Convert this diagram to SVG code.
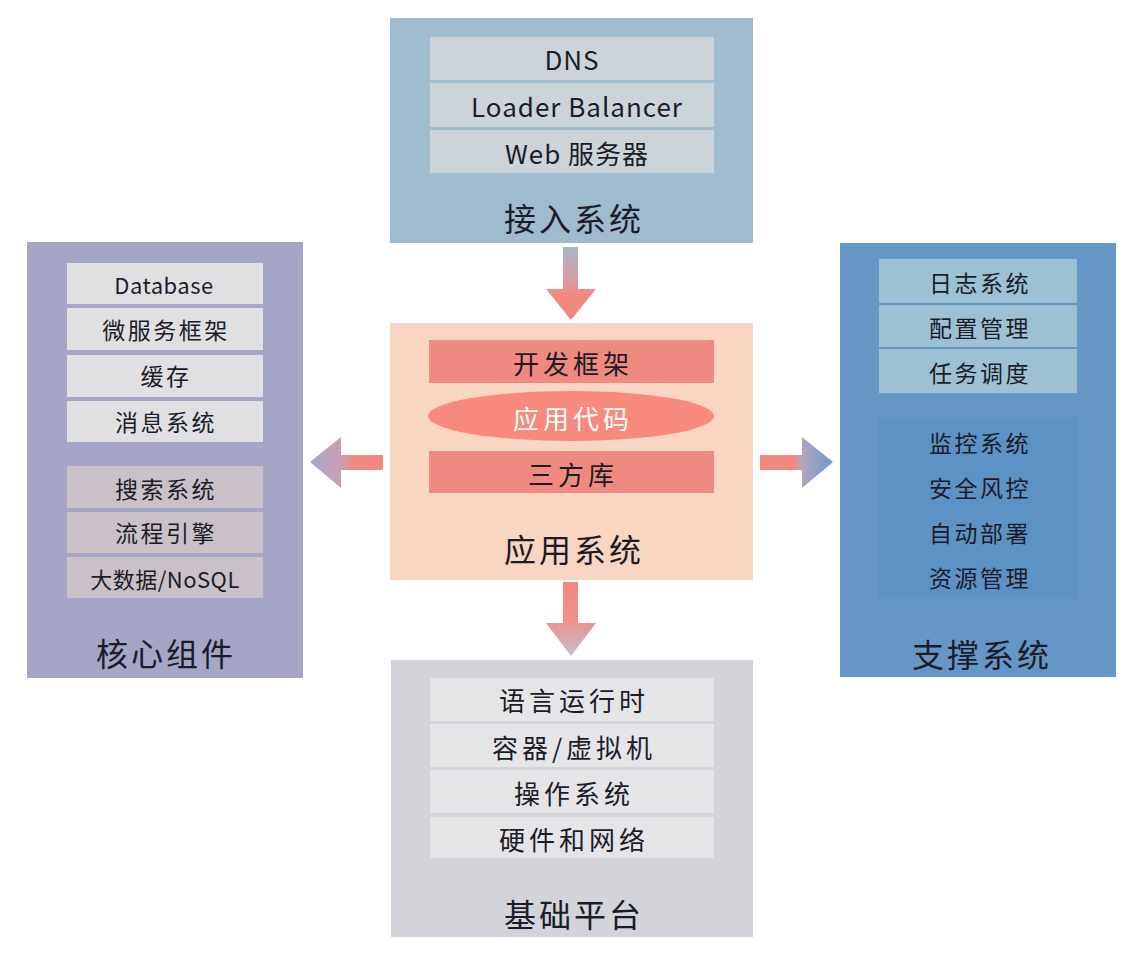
<svg xmlns="http://www.w3.org/2000/svg" width="1142" height="958" viewBox="0 0 1142 958">
  <style>
    text { font-family: "Noto Sans CJK SC", "DejaVu Sans", sans-serif; fill: #1c1c28; text-anchor: middle; dominant-baseline: central; }
    .item { font-size: 26px; letter-spacing: 4px; }
    .latin { font-size: 26px; letter-spacing: 1px; }
    .small { font-size: 23px; letter-spacing: 2.5px; }
    .tight { font-size: 22px; letter-spacing: 0.5px; }
    .title { font-size: 32px; letter-spacing: 3px; }
    .light { fill: #ffffff; }
  </style>
  <defs>
    <linearGradient id="gDownTop" x1="0" y1="0" x2="0" y2="1">
      <stop offset="0" stop-color="#a9b5cc"/>
      <stop offset="0.45" stop-color="#d49ca4"/>
      <stop offset="0.65" stop-color="#f08a80"/>
      <stop offset="1" stop-color="#f08a80"/>
    </linearGradient>
    <linearGradient id="gDownBottom" x1="0" y1="0" x2="0" y2="1">
      <stop offset="0" stop-color="#f08a80"/>
      <stop offset="0.5" stop-color="#f09088"/>
      <stop offset="1" stop-color="#c3bccd"/>
    </linearGradient>
    <linearGradient id="gLeft" x1="0" y1="0" x2="1" y2="0">
      <stop offset="0" stop-color="#a7a6c8"/>
      <stop offset="0.4" stop-color="#c9a0b4"/>
      <stop offset="0.6" stop-color="#f08a80"/>
      <stop offset="1" stop-color="#f08a80"/>
    </linearGradient>
    <linearGradient id="gRight" x1="0" y1="0" x2="1" y2="0">
      <stop offset="0" stop-color="#f08a80"/>
      <stop offset="0.45" stop-color="#f08a80"/>
      <stop offset="0.6" stop-color="#b0a4c2"/>
      <stop offset="1" stop-color="#6a9bca"/>
    </linearGradient>
  </defs>

  <rect width="1142" height="958" fill="#ffffff"/>

  <!-- connectors -->
  <g id="connectors">
    <polygon points="563,247 578,247 578,289 596,289 571,320 546,289 563,289" fill="url(#gDownTop)"/>
    <polygon points="563,582 578,582 578,623 596,623 571,656 546,623 563,623" fill="url(#gDownBottom)"/>
    <polygon points="383,455 383,470 341,470 341,488 310,462 341,437 341,455" fill="url(#gLeft)"/>
    <polygon points="760,455 760,470 802,470 802,488 833,462 802,437 802,455" fill="url(#gRight)"/>
  </g>

  <!-- access layer -->
  <g id="access">
    <rect x="390" y="18" width="363" height="225" fill="#a0bace"/>
    <rect x="430" y="37" width="284" height="43" fill="#ccd4da"/>
    <rect x="430" y="83" width="284" height="44" fill="#ccd4da"/>
    <rect x="430" y="130" width="284" height="43" fill="#ccd4da"/>
    <text class="latin" x="572" y="58">DNS</text>
    <text class="latin" x="577" y="105">Loader Balancer</text>
    <text class="latin" x="577" y="152">Web 服务器</text>
    <text class="title" x="574" y="217">接入系统</text>
  </g>

  <!-- application layer -->
  <g id="application">
    <rect x="390" y="323" width="363" height="257" fill="#f9d6c1"/>
    <rect x="429" y="340" width="285" height="43" fill="#f08a80"/>
    <ellipse cx="571" cy="416" rx="143" ry="25" fill="#f78a7c"/>
    <rect x="429" y="451" width="285" height="42" fill="#f08a80"/>
    <text class="item" x="573" y="362">开发框架</text>
    <text class="item light" x="573" y="417">应用代码</text>
    <text class="item" x="573" y="473">三方库</text>
    <text class="title" x="574" y="548">应用系统</text>
  </g>

  <!-- core components -->
  <g id="core">
    <rect x="27" y="242" width="276" height="436" fill="#a5a5c5"/>
    <rect x="67" y="263" width="196" height="41" fill="#e0e0e3"/>
    <rect x="67" y="308" width="196" height="42" fill="#e0e0e3"/>
    <rect x="67" y="355" width="196" height="42" fill="#e0e0e3"/>
    <rect x="67" y="401" width="196" height="41" fill="#e0e0e3"/>
    <rect x="67" y="466" width="196" height="42" fill="#c9c1c7"/>
    <rect x="67" y="512" width="196" height="41" fill="#c9c1c7"/>
    <rect x="67" y="557" width="196" height="41" fill="#c9c1c7"/>
    <text class="tight" x="164" y="284">Database</text>
    <text class="small" x="166" y="329">微服务框架</text>
    <text class="small" x="166" y="375">缓存</text>
    <text class="small" x="166" y="421">消息系统</text>
    <text class="small" x="166" y="488">搜索系统</text>
    <text class="small" x="166" y="532">流程引擎</text>
    <text class="tight" x="165" y="578">大数据/NoSQL</text>
    <text class="title" x="166" y="652">核心组件</text>
  </g>

  <!-- support systems -->
  <g id="support">
    <rect x="840" y="243" width="276" height="434" fill="#6597c6"/>
    <rect x="879" y="259" width="198" height="44" fill="#9dc0d3"/>
    <rect x="879" y="305" width="198" height="42" fill="#9dc0d3"/>
    <rect x="879" y="349" width="198" height="44" fill="#9dc0d3"/>
    <rect x="877" y="417" width="201" height="182" fill="#5d92c4"/>
    <text class="small" x="980" y="282">日志系统</text>
    <text class="small" x="980" y="327">配置管理</text>
    <text class="small" x="980" y="372">任务调度</text>
    <text class="small" x="980" y="442">监控系统</text>
    <text class="small" x="980" y="487">安全风控</text>
    <text class="small" x="980" y="532">自动部署</text>
    <text class="small" x="980" y="577">资源管理</text>
    <text class="title" x="982" y="653">支撑系统</text>
  </g>

  <!-- base platform -->
  <g id="platform">
    <rect x="391" y="660" width="362" height="277" fill="#d2d4d9"/>
    <rect x="430" y="678" width="284" height="43" fill="#e5e5e8"/>
    <rect x="430" y="724" width="284" height="43" fill="#e5e5e8"/>
    <rect x="430" y="770" width="284" height="43" fill="#e5e5e8"/>
    <rect x="430" y="817" width="284" height="41" fill="#e5e5e8"/>
    <text class="item" x="574" y="699">语言运行时</text>
    <text class="item" x="574" y="746">容器/虚拟机</text>
    <text class="item" x="574" y="792">操作系统</text>
    <text class="item" x="574" y="838">硬件和网络</text>
    <text class="title" x="574" y="913">基础平台</text>
  </g>
</svg>
